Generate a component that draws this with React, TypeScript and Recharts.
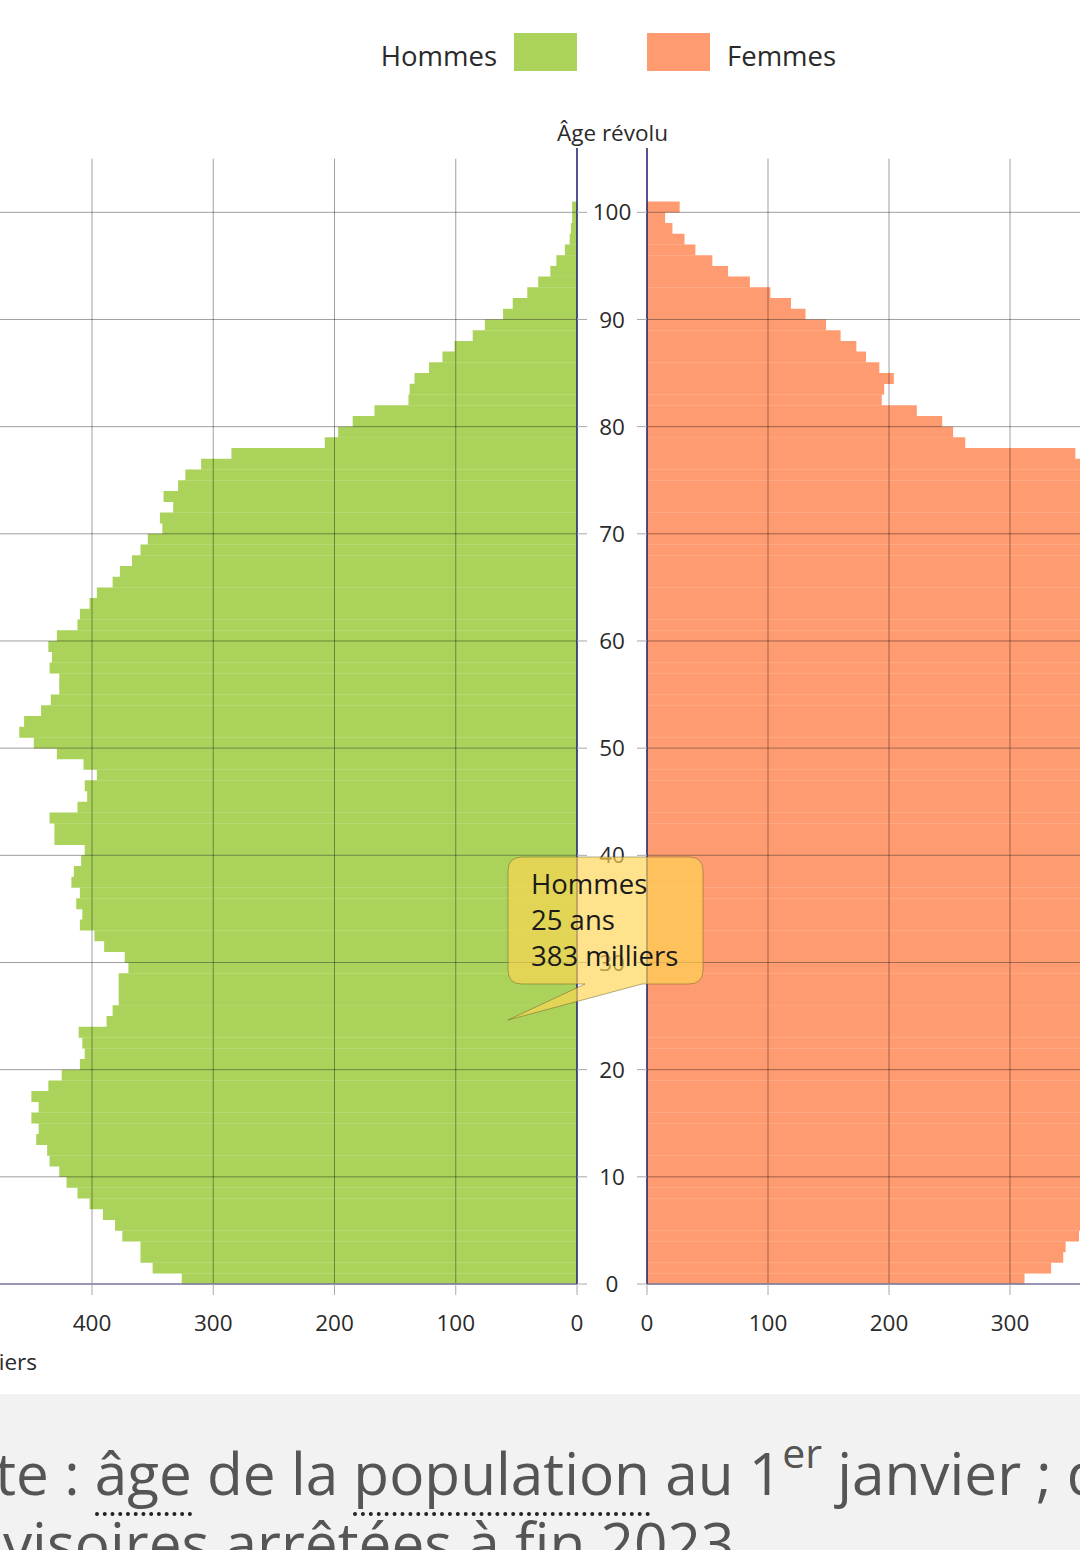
import { Bar, BarChart, ReferenceLine, Tooltip, XAxis, YAxis } from "recharts";

// Population par âge, en milliers
const ages = Array.from({ length: 101 }, (_, i) => i);

const hommes = [
  326, 350, 360, 360, 375, 381, 391, 402, 412, 421,
  427, 435, 437, 446, 444, 450, 444, 450, 436, 425,
  410, 406, 408, 411, 388, 383, 378, 378, 378, 370,
  373, 390, 398, 410, 408, 413, 410, 417, 415, 409,
  406, 431, 431, 435, 412, 404, 406, 396, 407, 429,
  448, 460, 456, 442, 434, 427, 427, 435, 433, 436,
  429, 412, 410, 402, 396, 383, 377, 367, 360, 354,
  342, 344, 333, 341, 329, 323, 310, 285, 208, 197,
  185, 167, 139, 138, 134, 122, 111, 101, 86, 76,
  61, 53, 41, 32, 22, 17, 10, 6, 5, 4,
  4,
];

const femmes = [
  312, 334, 344, 346, 357, 365, 373, 384, 393, 402,
  408, 415, 418, 426, 424, 429, 425, 430, 418, 410,
  398, 396, 399, 402, 385, 384, 384, 388, 392, 389,
  395, 410, 418, 428, 425, 430, 426, 432, 430, 424,
  421, 445, 443, 446, 423, 414, 416, 406, 417, 439,
  458, 472, 468, 455, 448, 442, 443, 452, 452, 456,
  451, 436, 436, 430, 425, 414, 410, 402, 397, 393,
  383, 387, 378, 388, 378, 374, 372, 354, 263, 253,
  244, 223, 194, 196, 204, 192, 181, 173, 160, 148,
  131, 119, 102, 85, 67, 54, 40, 31, 21, 15,
  27,
];

const ageTicks = [0, 10, 20, 30, 40, 50, 60, 70, 80, 90, 100];
const hommesTicks = [0, 100, 200, 300, 400];
const femmesTicks = [0, 100, 200, 300];

const data = ages.map((age, i) => ({
  age,
  pos: age + 0.5,
  hommes: hommes[i],
  femmes: femmes[i],
}));

const FONT = "'Open Sans', 'Noto Sans', sans-serif";
const GREEN = "#abd35c";
const ORANGE = "#ff9b70";
const GRID = "rgba(0,0,0,0.38)";
const AXIS_Y = "#1b1b70";
const AXIS_X = "#74749c";
const TICK_LINE = "#a8a8a8";
const TEXT = "#2a2a2a";

const AgeTick = ({ x, y, payload }: any) => (
  <text x={x + 25} y={y} dy="0.36em" textAnchor="middle" fill={TEXT} fontSize={22.5}>
    {payload.value}
  </text>
);

const NoTick = () => <g />;

const Callout = ({ payload }: any) => {
  if (!payload || !payload.length) return null;
  const row = payload[0].payload;
  return (
    <svg width={212} height={176} style={{ display: "block", overflow: "visible" }}>
      <path
        d="M22,7 H189 Q203,7 203,21 V120 Q203,134 189,134 H142 L8,170 L85,134 H22 Q8,134 8,120 V21 Q8,7 22,7 Z"
        fill="rgba(255,213,80,0.66)"
        stroke="rgba(110,95,40,0.5)"
        strokeWidth={1}
      />
      <text fontSize={27.5} fill="#1a1a1a" fontFamily={FONT}>
        <tspan x={31} y={44}>{payload[0].name}</tspan>
        <tspan x={31} y={80}>{row.age} ans</tspan>
        <tspan x={31} y={116}>{row.hommes} milliers</tspan>
      </text>
    </svg>
  );
};

const gridLines = (side: string, values: number[]) => [
  ...ageTicks
    .filter((t) => t > 0)
    .map((t) => (
      <ReferenceLine key={side + "h" + t} y={t} stroke={GRID} strokeWidth={1} zIndex={350} />
    )),
  ...values
    .filter((v) => v > 0)
    .map((v) => (
      <ReferenceLine
        key={side + "v" + v}
        segment={[
          { x: v, y: 0 },
          { x: v, y: 105 },
        ]}
        stroke={GRID}
        strokeWidth={1}
        zIndex={350}
      />
    )),
];

const App = () => {
  return (
    <div
      style={{
        position: "absolute",
        left: 0,
        top: 0,
        width: 1080,
        height: 1550,
        overflow: "hidden",
        background: "#fff",
        fontFamily: FONT,
      }}
    >
      {/* légende */}
      <svg width={1080} height={100} style={{ position: "absolute", left: 0, top: 0 }}>
        <text x={497} y={66} textAnchor="end" fontSize={27.5} fill={TEXT} fontFamily={FONT}>
          Hommes
        </text>
        <rect x={514} y={33} width={63} height={38} fill={GREEN} />
        <rect x={647} y={33} width={63} height={38} fill={ORANGE} />
        <text x={727} y={66} fontSize={27.5} fill={TEXT} fontFamily={FONT}>
          Femmes
        </text>
      </svg>

      {/* Femmes */}
      <div style={{ position: "absolute", left: 537, top: 0 }}>
        <BarChart
          width={715}
          height={1394}
          data={data}
          layout="vertical"
          margin={{ top: 148, right: 0, bottom: 50, left: 40 }}
          barCategoryGap={0}
        >
          <XAxis
            type="number"
            dataKey="femmes"
            domain={[0, 500]}
            ticks={femmesTicks}
            interval={0}
            height={60}
            axisLine={{ stroke: AXIS_X, strokeWidth: 1.5 }}
            tickLine={{ stroke: TICK_LINE }}
            tickSize={11}
            tickMargin={20}
            tick={{ fill: TEXT, fontSize: 22.5 }}
          />
          <YAxis
            type="number"
            dataKey="pos"
            orientation="left"
            reversed
            domain={[0, 106]}
            ticks={ageTicks}
            interval={0}
            width={70}
            axisLine={{ stroke: AXIS_Y, strokeWidth: 1.5 }}
            tickLine={{ stroke: TICK_LINE }}
            tickSize={10}
            tick={NoTick}
            label={{ value: "Âge révolu", position: { x: 91, y: -7 }, fill: TEXT, fontSize: 22.5 }}
          />
          <Bar dataKey="femmes" name="Femmes" fill={ORANGE} isAnimationActive={false} />
          {gridLines("f", femmesTicks)}
        </BarChart>
      </div>

      {/* Hommes */}
      <div style={{ position: "absolute", left: -100, top: 0 }}>
        <BarChart
          width={747}
          height={1394}
          data={data}
          layout="vertical"
          margin={{ top: 148, right: 0, bottom: 50, left: 70.75 }}
          barCategoryGap={0}
        >
          <XAxis
            type="number"
            dataKey="hommes"
            reversed
            domain={[0, 500]}
            ticks={hommesTicks}
            interval={0}
            height={60}
            axisLine={{ stroke: AXIS_X, strokeWidth: 1.5 }}
            tickLine={{ stroke: TICK_LINE }}
            tickSize={11}
            tickMargin={20}
            tick={{ fill: TEXT, fontSize: 22.5 }}
            label={{ value: "milliers", position: { x: 66.25, y: 86 }, fill: TEXT, fontSize: 22.5 }}
          />
          <YAxis
            type="number"
            dataKey="pos"
            orientation="right"
            reversed
            domain={[0, 106]}
            ticks={ageTicks}
            interval={0}
            width={70}
            axisLine={{ stroke: AXIS_Y, strokeWidth: 1.5 }}
            tickLine={{ stroke: TICK_LINE }}
            tickSize={10}
            tickMargin={0}
            tick={AgeTick}
          />
          <Bar dataKey="hommes" name="Hommes" fill={GREEN} isAnimationActive={false} />
          {gridLines("h", hommesTicks)}
          <Tooltip
            active
            defaultIndex={25}
            cursor={false}
            isAnimationActive={false}
            position={{ x: 600, y: 850 }}
            content={<Callout />}
            wrapperStyle={{ outline: "none" }}
          />
        </BarChart>
      </div>

      {/* note */}
      <div
        style={{
          position: "absolute",
          left: 0,
          top: 1394,
          width: 1080,
          height: 156,
          background: "#f2f2f2",
          overflow: "hidden",
          color: "#555",
          fontSize: 58.5,
          lineHeight: "70px",
          whiteSpace: "nowrap",
        }}
      >
        <div style={{ position: "absolute", left: -84, top: 43 }}>
          Note :{" "}
          <span style={{ borderBottom: "4px dotted #222" }}>âge</span> de la{" "}
          <span style={{ borderBottom: "4px dotted #222" }}>population</span> au 1
          <span style={{ fontSize: 41, position: "relative", top: -27, lineHeight: 0 }}>er</span>{" "}
          janvier ; données
        </div>
        <div style={{ position: "absolute", left: -92, top: 113 }}>
          provisoires arrêtées à fin 2023.
        </div>
      </div>
    </div>
  );
};

export default App;
